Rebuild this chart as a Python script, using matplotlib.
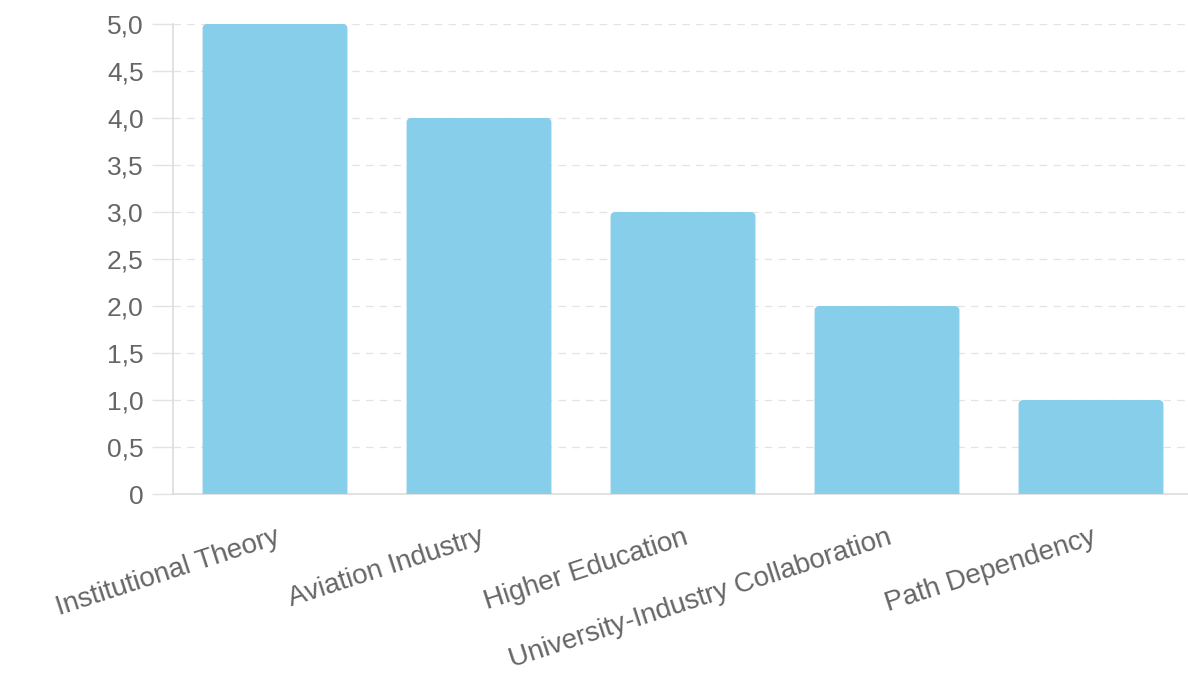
import matplotlib
matplotlib.use("Agg")
import matplotlib.pyplot as plt
from matplotlib.path import Path
from matplotlib.patches import PathPatch
from matplotlib.ticker import FuncFormatter, MultipleLocator

categories = ["Institutional Theory", "Aviation Industry", "Higher Education",
              "University-Industry Collaboration", "Path Dependency"]
values = [5, 4, 3, 2, 1]

BAR_COLOR = "#87CEEB"
GRID_COLOR = "#e3e3e3"
TEXT_COLOR = "#666666"

plt.rcParams["font.family"] = ["Liberation Sans", "DejaVu Sans"]

fig = plt.figure(figsize=(11.88, 6.81), dpi=100)
ax = fig.add_axes([173 / 1188, 187 / 681, 1020 / 1188, 470 / 681])

ax.set_xlim(-0.5, len(categories) - 0.5)
ax.set_ylim(0, 5)

bar_width = 0.71
rx, ry = 0.022, 0.045  # corner radius in data units


def rounded_top_bar(x0, w, h):
    x1 = x0 + w
    k = 0.5523
    verts = [
        (x0, 0), (x0, h - ry),
        (x0, h - ry + k * ry), (x0 + rx - k * rx, h), (x0 + rx, h),
        (x1 - rx, h),
        (x1 - rx + k * rx, h), (x1, h - ry + k * ry), (x1, h - ry),
        (x1, 0), (x0, 0),
    ]
    codes = [Path.MOVETO, Path.LINETO,
             Path.CURVE4, Path.CURVE4, Path.CURVE4,
             Path.LINETO,
             Path.CURVE4, Path.CURVE4, Path.CURVE4,
             Path.LINETO, Path.CLOSEPOLY]
    return Path(verts, codes)


bars = ax.bar(range(len(categories)), values, width=bar_width, color="none")
for rect in bars:
    path = rounded_top_bar(rect.get_x(), rect.get_width(), rect.get_height())
    ax.add_patch(PathPatch(path, facecolor=BAR_COLOR, edgecolor="none", zorder=3))
    rect.set_visible(False)

ax.yaxis.set_major_locator(MultipleLocator(0.5))
ax.yaxis.set_major_formatter(FuncFormatter(
    lambda v, _: "0" if v == 0 else f"{v:.1f}".replace(".", ",")))
ax.grid(axis="y", color=GRID_COLOR, linestyle=(0, (6, 5)), linewidth=0.9, zorder=0)
ax.set_axisbelow(True)

ax.tick_params(axis="y", length=15, width=1, color=GRID_COLOR, pad=6,
               labelsize=19, labelcolor=TEXT_COLOR)
ax.tick_params(axis="x", length=0, pad=22, labelsize=20, labelcolor=TEXT_COLOR)

ax.set_xticks(range(len(categories)))
ax.set_xticklabels(categories, rotation=18, ha="right", rotation_mode="anchor")

for side in ("top", "right"):
    ax.spines[side].set_visible(False)
for side in ("left", "bottom"):
    ax.spines[side].set_color("#dddddd")
    ax.spines[side].set_linewidth(1.2)

fig.savefig("out.png", dpi=100, facecolor="white")
